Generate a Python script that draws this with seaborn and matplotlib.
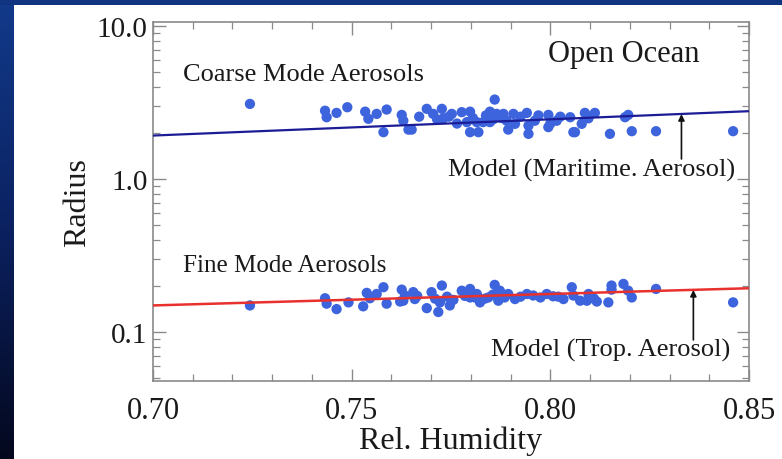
import numpy as np
import pandas as pd
import matplotlib
matplotlib.use("Agg")
import matplotlib.pyplot as plt
import seaborn as sns
from matplotlib.ticker import MultipleLocator, LogLocator, FixedLocator, FixedFormatter, NullFormatter
from matplotlib.colors import LinearSegmentedColormap

# ---- data ----
coarse_rh = [0.7244, 0.7433, 0.7437, 0.7462, 0.7489, 0.7534, 0.7542, 0.7563, 0.7588, 0.7580,
             0.7626, 0.7630, 0.7643, 0.7651, 0.7689, 0.7705, 0.7727, 0.7731, 0.7752, 0.7777,
             0.7798, 0.7790, 0.7798, 0.7819, 0.7815, 0.7831, 0.7848, 0.7860, 0.7865, 0.7848,
             0.7882, 0.7890, 0.7907, 0.7911, 0.7894, 0.7941, 0.7945, 0.7945, 0.7961, 0.7995,
             0.7995, 0.8016, 0.8050, 0.8058, 0.8062, 0.8079, 0.8087, 0.8096, 0.8112, 0.8150,
             0.8188, 0.8196, 0.8205, 0.8266, 0.8460,
             0.7670, 0.7715, 0.7745, 0.7765, 0.7805, 0.7838, 0.7856, 0.7878, 0.7925, 0.7970,
             0.8025, 0.8000]
coarse_radius = [3.09, 2.79, 2.53, 2.70, 2.94, 2.75, 2.47, 2.66, 2.84, 2.02,
                 2.62, 2.40, 2.10, 2.10, 2.87, 2.66, 2.87, 2.49, 2.66, 2.73,
                 2.75, 2.35, 2.02, 2.02, 2.35, 2.35, 2.75, 3.30, 2.66, 2.35,
                 2.66, 2.40, 2.66, 2.29, 2.10, 2.70, 2.23, 1.97, 2.40, 2.62,
                 2.18, 2.40, 2.53, 2.02, 2.02, 2.29, 2.70, 2.49, 2.70, 1.97,
                 2.53, 2.62, 2.05, 2.05, 2.05,
                 2.55, 2.45, 2.55, 2.30, 2.50, 2.60, 2.45, 2.50, 2.55, 2.60,
                 2.55, 2.30]

fine_rh = [0.7244, 0.7433, 0.7437, 0.7462, 0.7492, 0.7529, 0.7538, 0.7546, 0.7563, 0.7580,
           0.7588, 0.7622, 0.7626, 0.7634, 0.7630, 0.7655, 0.7659, 0.7689, 0.7701, 0.7718,
           0.7727, 0.7722, 0.7747, 0.7756, 0.7777, 0.7798, 0.7798, 0.7815, 0.7823, 0.7844,
           0.7860, 0.7869, 0.7873, 0.7894, 0.7911, 0.7941, 0.7957, 0.7991, 0.8007, 0.8033,
           0.8058, 0.8054, 0.8075, 0.8096, 0.8092, 0.8117, 0.8146, 0.8154, 0.8154, 0.8184,
           0.8196, 0.8205, 0.8266, 0.8460,
           0.7665, 0.7710, 0.7740, 0.7785, 0.7810, 0.7835, 0.7855, 0.7885, 0.7925, 0.7975,
           0.8020, 0.8110]
fine_radius = [0.149, 0.166, 0.153, 0.141, 0.156, 0.147, 0.180, 0.166, 0.177, 0.196,
               0.153, 0.158, 0.189, 0.173, 0.160, 0.182, 0.164, 0.143, 0.182, 0.135,
               0.201, 0.156, 0.149, 0.162, 0.186, 0.191, 0.168, 0.177, 0.156, 0.168,
               0.203, 0.160, 0.186, 0.177, 0.164, 0.177, 0.173, 0.177, 0.171, 0.164,
               0.173, 0.196, 0.160, 0.177, 0.160, 0.158, 0.156, 0.201, 0.189, 0.206,
               0.186, 0.168, 0.191, 0.156,
               0.172, 0.165, 0.170, 0.172, 0.168, 0.165, 0.175, 0.168, 0.170, 0.168,
               0.170, 0.165]

model_rh = [0.70, 0.85]
coarse_model = [1.92, 2.77]
fine_model = [0.149, 0.193]

x_ticks = [0.70, 0.75, 0.80, 0.85]
x_ticklabels = ["0.70", "0.75", "0.80", "0.85"]
y_ticks = [0.1, 1.0, 10.0]
y_ticklabels = ["0.1", "1.0", "10.0"]

# ---- style ----
sns.set_theme(style="ticks")
plt.rcParams['font.family'] = ['Liberation Serif', 'DejaVu Serif']

W, H = 782, 460
fig = plt.figure(figsize=(W / 100, H / 100), dpi=100)
fig.patch.set_facecolor('white')

# dark blue frame (left strip gradient + top strip)
bg_left = fig.add_axes([0, 0, 14 / W, 1])
grad = np.linspace(0, 1, 256).reshape(-1, 1)
cmap = LinearSegmentedColormap.from_list("nv", ["#04081e", "#0b2160", "#123a8a"])
bg_left.imshow(grad, aspect='auto', cmap=cmap, origin='lower', extent=[0, 1, 0, 1])
bg_left.axis('off')
bg_top = fig.add_axes([0, 1 - 6 / H, 1, 6 / H])
bg_top.set_facecolor('#10347f')
bg_top.set_xticks([]); bg_top.set_yticks([])
for s in bg_top.spines.values():
    s.set_visible(False)

ax = fig.add_axes([153 / W, 1 - 382 / H, (749 - 153) / W, (382 - 23) / H])
ax.set_facecolor('white')

coarse_df = pd.DataFrame({"rh": coarse_rh, "radius": coarse_radius})
fine_df = pd.DataFrame({"rh": fine_rh, "radius": fine_radius})
model_df = pd.DataFrame({"rh": model_rh, "coarse": coarse_model, "fine": fine_model})

ax.set_yscale('log')
pt_color = '#3d64dd'
sns.scatterplot(data=coarse_df, x="rh", y="radius", ax=ax, color=pt_color, s=55,
                edgecolor='none', zorder=3)
sns.scatterplot(data=fine_df, x="rh", y="radius", ax=ax, color=pt_color, s=55,
                edgecolor='none', zorder=3)
sns.lineplot(data=model_df, x="rh", y="coarse", ax=ax, color='#1c1c96', lw=1.6, zorder=4)
sns.lineplot(data=model_df, x="rh", y="fine", ax=ax, color='#e8312c', lw=1.8, zorder=4)

ax.set_xlim(0.70, 0.85)
ax.set_ylim(0.0478, 10.6)

ax.xaxis.set_major_locator(FixedLocator(x_ticks))
ax.xaxis.set_major_formatter(FixedFormatter(x_ticklabels))
ax.xaxis.set_minor_locator(MultipleLocator(0.01))
ax.yaxis.set_major_locator(FixedLocator(y_ticks))
ax.yaxis.set_major_formatter(FixedFormatter(y_ticklabels))
ax.yaxis.set_minor_locator(LogLocator(base=10, subs=np.arange(2, 10)))
ax.yaxis.set_minor_formatter(NullFormatter())

spine_c = '#8a8a8a'
for s in ax.spines.values():
    s.set_visible(True)
    s.set_color(spine_c)
    s.set_linewidth(1.2)
ax.tick_params(which='both', direction='in', top=True, right=True, color=spine_c,
               labelcolor='#1a1a1a')
ax.tick_params(axis='x', labelsize=22, pad=11)
ax.tick_params(axis='y', labelsize=21, pad=4)
ax.tick_params(which='major', length=9, width=1.0)
ax.tick_params(which='minor', length=5, width=0.9)

ax.set_xlabel("Rel. Humidity", fontsize=23, color='#1a1a1a', labelpad=0)
ax.set_ylabel("Radius", fontsize=23, color='#1a1a1a', labelpad=3)

tc = '#1a1a1a'
ax.text(0.7076, 4.86, "Coarse Mode Aerosols", fontsize=19, color=tc, ha='left', va='center')
ax.text(0.7994, 6.56, "Open Ocean", fontsize=22, color=tc, ha='left', va='center')
ax.text(0.7076, 0.274, "Fine Mode Aerosols", fontsize=18, color=tc, ha='left', va='center')
ax.text(0.8465, 1.16, "Model (Maritime. Aerosol)", fontsize=19, color=tc, ha='right', va='center')
ax.text(0.8453, 0.0774, "Model (Trop. Aerosol)", fontsize=19, color=tc, ha='right', va='center')

ax.annotate('', xy=(0.833, 2.65), xytext=(0.833, 1.35),
            arrowprops=dict(arrowstyle='-|>', color='#111111', lw=1.2, mutation_scale=9,
                            shrinkA=0, shrinkB=0), zorder=5)
ax.annotate('', xy=(0.836, 0.188), xytext=(0.836, 0.0887),
            arrowprops=dict(arrowstyle='-|>', color='#111111', lw=1.2, mutation_scale=9,
                            shrinkA=0, shrinkB=0), zorder=5)

fig.savefig("out.png", dpi=100, facecolor=fig.get_facecolor())
